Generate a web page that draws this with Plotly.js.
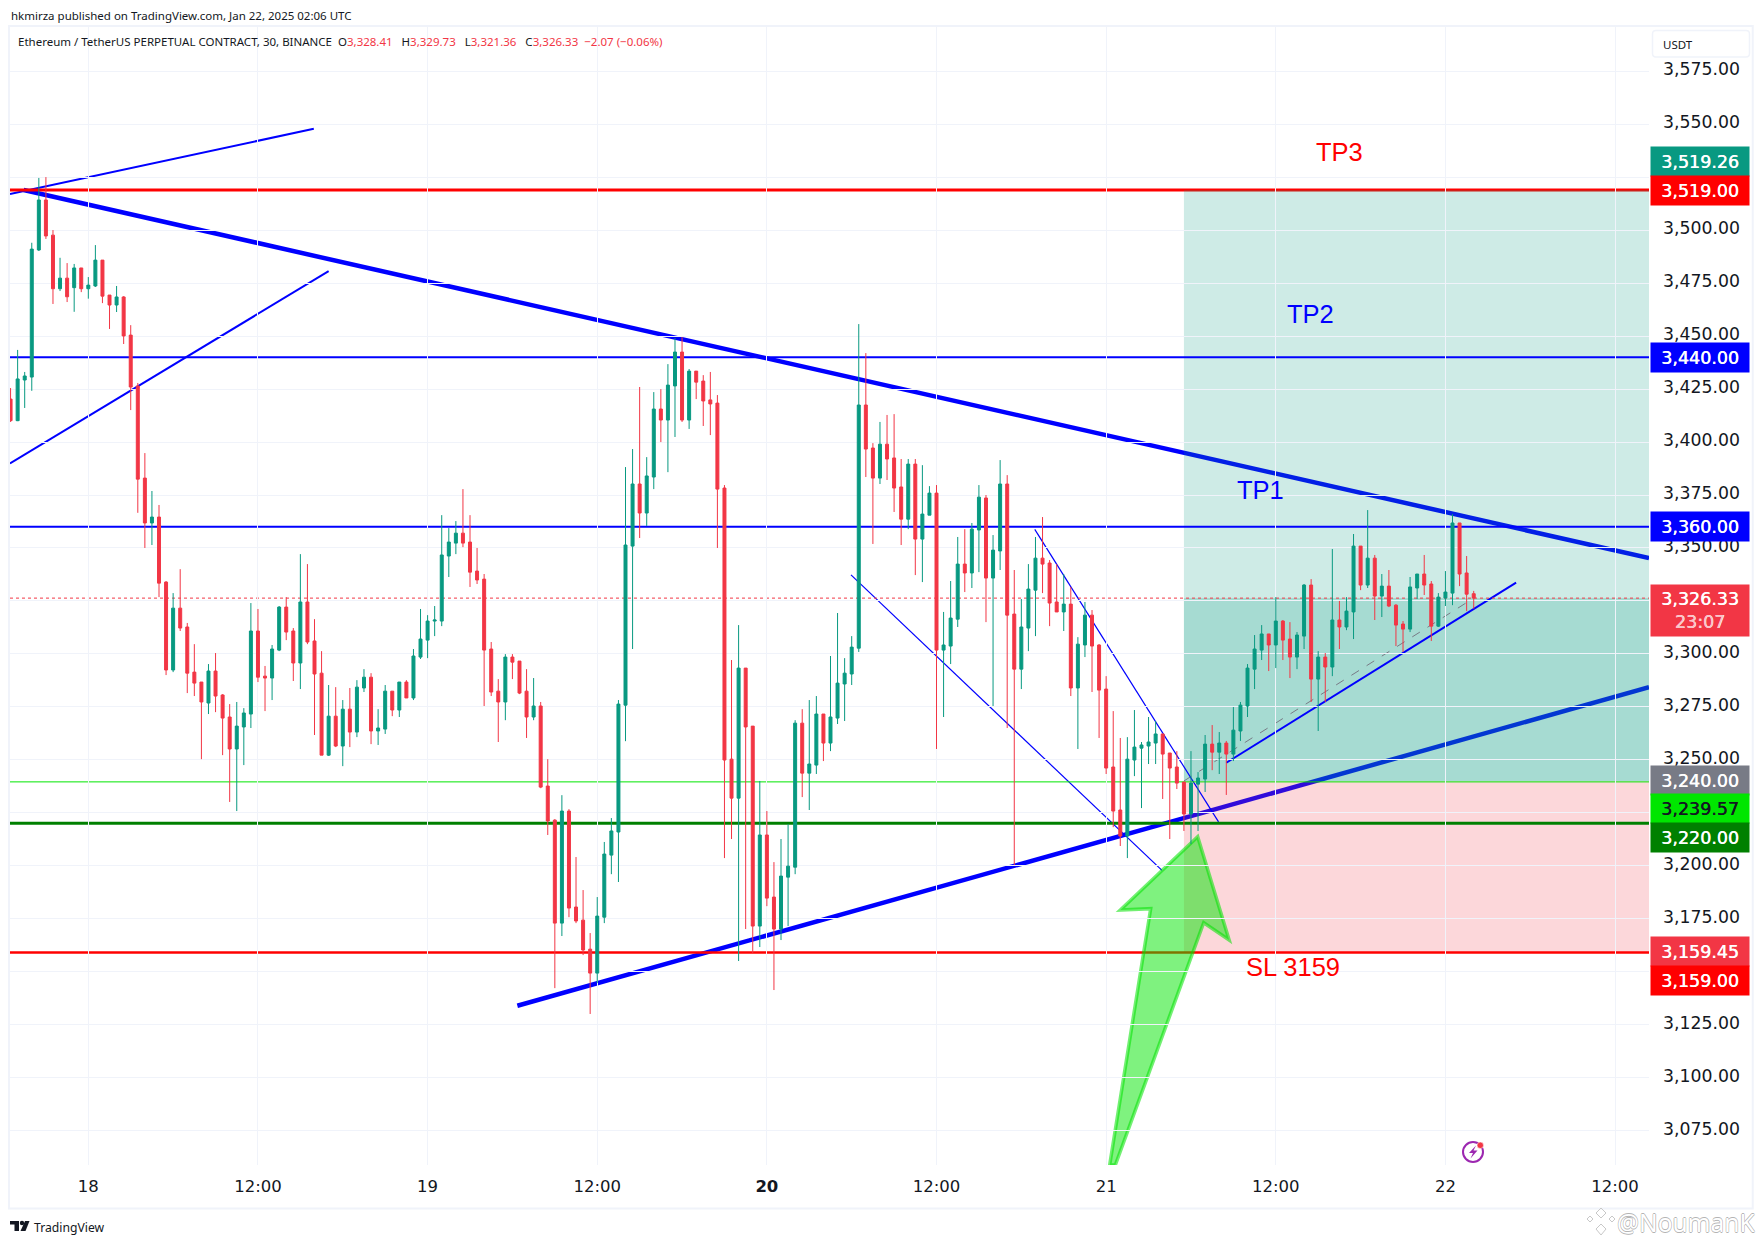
<!DOCTYPE html>
<html>
<head>
<meta charset="utf-8">
<script src="https://cdn.plot.ly/plotly-3.0.1.min.js"></script>
<style>html,body{margin:0;padding:0;background:#fff}#chart{width:1763px;height:1244px}</style>
</head>
<body>
<div id="chart"></div>
<script>
// ---- Candles (30-minute bars, first bar is 11 bars before Jan 18 00:00 UTC) ----
const firstBar = -11;
const open = [3420.3,3410.1,3429.3,3430.7,3490.7,3514.3,3497.7,3472.4,3477.4,3472.9,3482.2,
3472.4,3473.7,3485.9,3469.4,3464.7,3468.5,3450.5,3426.5,3383,3361.8,3364.6,
3333.9,3292.4,3321.6,3312.7,3291.4,3286.7,3276.8,3291.9,3280.6,3270.2,3255.1,
3265.5,3271.6,3310.8,3289.5,3288.6,3301.8,3322.1,3310.8,3295.7,3324.5,3306.1,
3290.9,3252.2,3270.6,3256.5,3273.9,3263.1,3283.9,3289,3263.6,3264.5,3282.4,
3273.5,3286.7,3279.2,3298.5,3306.5,3315.5,3315.5,3346.2,3352.3,3357,3352.8,
3339.1,3335.3,3302.3,3282.4,3277.3,3298.5,3296.6,3282.4,3270.2,3275.4,3237.6,
3221.5,3172.9,3225.8,3180.5,3174.3,3160.6,3149.3,3175.7,3205,3215.9,3275.8,
3350.9,3380.2,3366.5,3383.5,3415.6,3410.4,3426.5,3442.5,3410.4,3433.5,3428.8,
3419.9,3418.4,3378.3,3250.3,3231.9,3293.3,3265.9,3171.5,3214.5,3185.2,3170.1,
3194.6,3199.3,3267.3,3243.7,3247.5,3271.6,3257.9,3269.7,3285.8,3290.5,3302.7,
3417.5,3397.2,3383,3399,3392.5,3378.8,3363.6,3389.6,3354.2,3365.5,3375.9,
3301.8,3303.7,3316.4,3342.4,3338.2,3358.5,3373.6,3335.8,3348.6,3380.2,3318.8,
3292.8,3312.2,3330.1,3345.2,3342.9,3324.5,3319.8,3323.5,3283.9,3304.2,3318.3,
3304.2,3283.4,3246.6,3226.3,3214,3249.9,3255.5,3256.5,3257.9,3262.2,3253.2,
3246.6,3239.5,3224.4,3238.5,3240.9,3257.4,3253.6,3257.9,3252.7,3263.6,3275.4,
3292.8,3301.8,3309.4,3304.2,3315.5,3307,3298.5,3308.4,3332.5,3288.1,3298.5,
3293.8,3316,3312.7,3319.8,3350.9,3332.5,3345.2,3327.3,3332,3323,3314.1,
3311.7,3331.1,3337.7,3333,3313.1,3326.4,3328.7,3361.8,3338.2,3328.41];
const high = [3425.5,3443.5,3433.1,3494.1,3524.7,3525.1,3500.1,3487,3484.5,3484.1,3482.2,
3477.9,3493,3485.9,3469.4,3473.7,3468.9,3455.2,3427.9,3394.8,3376.9,3370.3,
3334.4,3328.7,3340,3314.6,3304.6,3286.7,3295.2,3300.4,3281,3276.3,3277.3,
3274.4,3324,3321.2,3294.3,3304.2,3322.6,3326.8,3312.2,3347.1,3342.4,3316.4,
3301.3,3285.3,3284.3,3278.2,3283.9,3287.6,3292.8,3290.9,3273.9,3285.3,3282.4,
3286.7,3287.6,3302.3,3321.2,3318.3,3322.6,3365.5,3359.4,3362.7,3377.8,3365.5,
3350,3337.7,3305.6,3288.1,3299.9,3299.9,3296.6,3292.8,3288.6,3277.3,3250.3,
3222,3233.3,3226.7,3204.1,3188.5,3168.2,3185.2,3211.2,3222.5,3278.2,3388.2,
3396.7,3426,3392.9,3423.6,3425,3436.8,3449.1,3449.6,3434.5,3433.5,3431.6,
3433.1,3422.2,3379.7,3297.1,3313.6,3293.3,3265.9,3240,3225.8,3201.7,3212.6,
3219.6,3268.7,3273.9,3278.2,3280.1,3271.6,3299,3319.3,3298,3308.4,3455.7,
3442,3399.5,3409.5,3412.8,3413.2,3392,3392,3392,3389.1,3379.2,3379.7,
3319.8,3334.4,3355.2,3358.9,3361.8,3379.7,3375,3356.1,3391.5,3384.4,3339.6,
3325.9,3342.4,3355.2,3364.6,3344.3,3342.4,3337.7,3331.6,3307.9,3324.5,3320.7,
3304.6,3289.5,3273,3260.3,3260.7,3273.5,3258.4,3270.2,3268.3,3262.2,3253.2,
3254.1,3239.5,3254.1,3244.2,3261.7,3266.4,3263.1,3258.9,3274.9,3277.3,3295.2,
3308.9,3313.6,3309.4,3326.8,3316,3315,3310.3,3333,3335.3,3301.3,3300.4,
3349.5,3325,3326.8,3356.6,3350.9,3367.9,3346.7,3337.7,3339.6,3323.5,3315.5,
3336.3,3337.7,3346.7,3334.4,3328.7,3339.1,3366,3361.8,3346.2,3329.73];
const low = [3409.5,3409.9,3416.1,3424.2,3490.2,3495.9,3465.2,3471.3,3466.1,3461.5,3470.8,
3467.7,3473.2,3465.6,3453.4,3461.4,3446.3,3415.1,3366.6,3350,3351.4,3326.8,
3290,3291.4,3310.8,3281.5,3280.1,3250.3,3271.6,3272.5,3252.2,3230.1,3225.8,
3247.5,3265,3286.7,3273,3278.2,3301.3,3306.5,3287.2,3283.4,3304.6,3261.7,
3252.2,3251.8,3256,3247,3256,3260.7,3282,3257.4,3257,3262.2,3270.6,
3270.2,3279.2,3278.2,3297.6,3298,3308.4,3313.1,3336.3,3347.1,3350.4,3331.6,
3333,3275.4,3280.1,3258.4,3268.7,3288.1,3281,3260.3,3268.7,3236.6,3214.5,
3142.2,3166.8,3175.7,3172.9,3157.8,3130,3144.6,3172.9,3196,3192.3,3258.8,
3302.3,3354.7,3360.4,3377.8,3400,3385.8,3402.4,3409.5,3406.2,3420.3,3407.6,
3403.3,3350,3203.6,3212.6,3155,3170.1,3158.7,3161.6,3180.9,3141.3,3164.9,
3171.5,3196,3232.4,3226.3,3243.3,3249.4,3254.1,3266.9,3268.3,3285.3,3300.9,
3383.5,3351.9,3380.2,3382.1,3367,3351.4,3358.9,3337.2,3333.9,3365.5,3255.1,
3270.2,3295.2,3312.7,3329.2,3331.1,3338.6,3315,3275.4,3339.6,3265,3200.3,
3283.4,3301.3,3308.4,3328.7,3313.1,3319.8,3310.8,3280.1,3255.1,3298.5,3282,
3260.3,3243.3,3218.2,3209.3,3203.6,3242.3,3227.2,3248,3248,3231.5,3212.6,
3236.2,3216.4,3210.2,3216.4,3234.8,3245.1,3243.3,3233.4,3249.4,3258.9,3270.2,
3283.4,3297.1,3291.9,3293.3,3297.1,3288.6,3292.8,3302.3,3277.3,3263.6,3277.3,
3289.5,3302.3,3311.2,3307,3330.1,3331.1,3316,3317.4,3322.1,3303.7,3300.9,
3310.3,3325.9,3327.8,3306.1,3312.7,3322.6,3323,3332,3320.2,3321.36];
const close = [3410.1,3429.8,3431.2,3491.1,3514.3,3497.3,3472.4,3477.4,3468.6,3482.2,3472.4,
3474.1,3485.9,3468.9,3464.7,3468.5,3450.1,3426,3382.5,3361.8,3364.6,3333.4,
3292.4,3321.6,3312.2,3290.9,3286.2,3277.3,3291.9,3280.1,3269.7,3255.1,3265.9,
3272.1,3310.8,3289,3288.6,3302.3,3322.1,3310.3,3295.7,3324.5,3305.6,3290.5,
3252.2,3270.6,3256.5,3273.9,3263.1,3284.3,3289,3263.6,3265,3282.4,3273.5,
3286.7,3279.2,3299,3307,3315.5,3316,3346.7,3352.8,3357,3352.3,3338.6,
3334.9,3301.8,3282,3277.3,3298.5,3296.1,3281.5,3270.2,3275.4,3237.1,3221.1,
3172.9,3225.8,3180,3173.9,3160.2,3149.3,3176.2,3205.5,3216.4,3276.3,3351.4,
3380.2,3366.5,3384,3415.6,3410.4,3426.9,3442.5,3410.4,3433.5,3428.3,3419.4,
3418,3377.8,3249.9,3231.9,3293.3,3265.5,3171.5,3214.5,3184.7,3170.1,3195.1,
3199.8,3267.3,3243.7,3248,3271.6,3257.9,3270.2,3286.2,3290.9,3303.2,3417.5,
3396.7,3383,3399,3392,3378.3,3363.6,3389.6,3354.2,3366,3375.9,3301.8,
3304.2,3316.9,3342.4,3338.2,3358.9,3374,3335.8,3349,3380.2,3318.3,3292.8,
3312.7,3330.6,3345.2,3342.4,3324,3319.8,3323.5,3283.9,3304.6,3318.3,3303.7,
3282.9,3246.1,3225.8,3214,3250.3,3256,3257,3258.4,3262.2,3252.7,3246.1,
3239,3224.4,3239,3241.4,3257.4,3253.6,3257.9,3252.7,3264,3275.8,3293.3,
3302.3,3309.4,3304.2,3315.5,3306.5,3298.5,3308.9,3332.5,3288.1,3298.5,3293.8,
3316,3312.7,3320.2,3350.9,3332.5,3345.2,3327.3,3332,3322.6,3313.6,3311.7,
3331.6,3337.7,3332.5,3313.1,3326.8,3329.2,3361.8,3337.7,3328.2,3326.33];

// ---- Axis ----
const priceTicks = [3575,3550,3525,3500,3475,3450,3425,3400,3375,3350,3325,3300,3275,3250,3225,3200,3175,3150,3125,3100,3075];
const hiddenPriceTicks = [3525,3325,3225,3150];
const timeTickBars = [0,24,48,72,96,120,144,168,192,216];
const timeTickLabels = ['18','12:00','19','12:00','<b>20</b>','12:00','21','12:00','22','12:00'];
const priceRange = [3058.7,3595.96];
const barRange = [-11.08,220.8];

// ---- Levels ----
const levelTP3 = 3519, levelTP2 = 3440, levelTP1 = 3360, levelEntry = 3240, levelMark = 3239.57, levelSupport = 3220, levelSL = 3159, lastPrice = 3326.33;

// ---- Drawn lines: bar offsets and prices ----
const resistBars = [-9.14,220.8],  resistPrices = [3519,3345.2];
const supportBars = [60.7,220.8],  supportPrices = [3133.9,3284.3];
const fanABars = [-11.08,31.9],    fanAPrices = [3517.1,3547.9];
const fanBBars = [-11.08,34],      fanBPrices = [3389.9,3480.7];
const wedgeLowBars = [107.9,151.9], wedgeLowPrices = [3337.3,3197.8];
const wedgeUpBars = [133.9,159.9], wedgeUpPrices = [3358.8,3220.7];
const channelBars = [161,202],     channelPrices = [3248.6,3333.6];
const posBars = [155,220.8], posNowBar = 196;
const arrowBars = [156.95,161.4,157.8,145.3,144.5,150.3,146];
const arrowPrices = [3213.7,3164.9,3173.1,3058.7,3058.7,3179.7,3179.1];

// ---- Text ----
const headerText = 'hkmirza published on TradingView.com, Jan 22, 2025 02:06 UTC';
const symbolText = 'Ethereum / TetherUS PERPETUAL CONTRACT, 30, BINANCE';
const ohlcLabels = [['O','3,328.41'],['H','3,329.73'],['L','3,321.36'],['C','3,326.33']];
const changeText = '−2.07 (−0.06%)';

// ---- Helpers ----
const UP = '#089981', DOWN = '#F23645', BLUE = '#0000FF', RED = '#FF0000';
const L = 10, R = 1649, T = 27, B = 1165;
const px = X => (X - L) / (R - L);
const py = Y => (B - Y) / (B - T);
const T0 = Date.UTC(2025, 0, 18);
const barTime = b => new Date(T0 + b * 1800000).toISOString().slice(0, 19).replace('T', ' ');
const times = open.map((_, i) => barTime(firstBar + i));
const SANS = '"Noto Sans", sans-serif', AXIS = '"DejaVu Sans", sans-serif';

const seg = (bars, prices, color, width, dash) => ({type:'line', xref:'x', yref:'y', layer:'below',
  x0:barTime(bars[0]), x1:barTime(bars[1]), y0:prices[0], y1:prices[1],
  line:{color, width, dash:dash||'solid'}});
const level = (v, color, width, dash) => seg(barRange, [v, v], color, width, dash);
const zone = (b, p0, p1, fill) => ({type:'rect', xref:'x', yref:'y', layer:'below',
  x0:barTime(b[0]), x1:barTime(b[1]), y0:p0, y1:p1, fillcolor:fill, line:{width:0}});
const pixRect = (x0, y0, x1, y1, extra) => Object.assign({type:'rect', xref:'paper', yref:'paper',
  x0:px(x0), x1:px(x1), y0:py(y0), y1:py(y1), line:{width:0}}, extra);
const pixCircle = (cx, cy, r, extra) => Object.assign(pixRect(cx-r, cy-r, cx+r, cy+r, extra), {type:'circle'});
const pixPoly = (pts, extra) => Object.assign({type:'path', xref:'paper', yref:'paper',
  path:'M ' + pts.map(p => px(p[0]) + ',' + py(p[1])).join(' L ') + ' Z', line:{width:0}}, extra);

const arrowPath = 'M ' + arrowBars.map((b, i) => barTime(b).replace(' ', '_') + ',' + arrowPrices[i]).join(' L ') + ' Z';

const shapes = [
  pixRect(9, 26, 1752.7, 1208.5, {layer:'below', line:{color:'#F0F3FA', width:2}}),
  seg(fanABars, fanAPrices, BLUE, 2),
  seg(fanBBars, fanBPrices, BLUE, 2),
  seg(resistBars, resistPrices, BLUE, 4.5),
  seg(supportBars, supportPrices, BLUE, 4.5),
  level(levelTP3, RED, 3),
  zone(posBars, levelEntry, levelTP3, 'rgba(8,153,129,0.2)'),
  zone(posBars, levelEntry, lastPrice, 'rgba(8,153,129,0.2)'),
  zone(posBars, levelSL, levelEntry, 'rgba(242,54,69,0.2)'),
  seg([posBars[0], posNowBar], [levelEntry, lastPrice], '#787B86', 1, 'dash'),
  seg(wedgeLowBars, wedgeLowPrices, BLUE, 1.2),
  seg(wedgeUpBars, wedgeUpPrices, BLUE, 1.2),
  seg(channelBars, channelPrices, BLUE, 2),
  level(levelTP2, BLUE, 2),
  level(levelTP1, BLUE, 2),
  level(lastPrice, DOWN, 1, 'dot'),
  level(levelMark, '#00E600', 1),
  level(levelSupport, '#008000', 3),
  level(levelSL, RED, 2.5),
  {type:'path', xref:'x', yref:'y', layer:'below', path:arrowPath,
   fillcolor:'rgba(0,230,0,0.5)', line:{color:'rgba(0,225,0,0.55)', width:3.5}},
  // USDT button
  {type:'path', xref:'paper', yref:'paper', layer:'below',
   path:'M '+px(1656)+','+py(30.5)+' L '+px(1746)+','+py(30.5)+' Q '+px(1749.5)+','+py(30.5)+' '+px(1749.5)+','+py(34)+
        ' L '+px(1749.5)+','+py(53.5)+' Q '+px(1749.5)+','+py(57)+' '+px(1746)+','+py(57)+
        ' L '+px(1656)+','+py(57)+' Q '+px(1652.5)+','+py(57)+' '+px(1652.5)+','+py(53.5)+
        ' L '+px(1652.5)+','+py(34)+' Q '+px(1652.5)+','+py(30.5)+' '+px(1656)+','+py(30.5)+' Z',
   fillcolor:'#ffffff', line:{color:'#F0F3FA', width:1.5}},
  // lightning badge
  pixCircle(1473, 1152, 10, {layer:'above', line:{color:'#9C27B0', width:2}}),
  pixPoly([[1476,1145.5],[1469,1153],[1473,1153],[1470.5,1158.5],[1477.5,1150.5],[1473.5,1150.5]], {layer:'above', fillcolor:'#9C27B0'}),
  pixCircle(1480.3, 1145.3, 3.2, {layer:'above', fillcolor:'#F23645', line:{color:'#ffffff', width:0.5}}),
  // TradingView mark
  pixPoly([[10,1221],[19,1221],[19,1231],[14.5,1231],[14.5,1224.5],[10,1224.5]], {layer:'above', fillcolor:'#131722'}),
  pixCircle(22, 1223, 2.2, {layer:'above', fillcolor:'#131722'}),
  pixPoly([[25,1221],[29.5,1221],[25.5,1231],[20.5,1231]], {layer:'above', fillcolor:'#131722'}),
  // watermark mark
  pixPoly([[1601,1208],[1606,1213],[1601,1218],[1596,1213]], {layer:'above', fillcolor:'rgba(0,0,0,0)', line:{color:'#c8c8c8', width:1}}),
  pixPoly([[1590,1216],[1593,1219],[1590,1222],[1587,1219]], {layer:'above', fillcolor:'rgba(0,0,0,0)', line:{color:'#c8c8c8', width:1}}),
  pixPoly([[1612,1216],[1615,1219],[1612,1222],[1609,1219]], {layer:'above', fillcolor:'rgba(0,0,0,0)', line:{color:'#c8c8c8', width:1}}),
  pixPoly([[1601,1224],[1606,1229],[1601,1235],[1596,1229]], {layer:'above', fillcolor:'rgba(0,0,0,0)', line:{color:'#c8c8c8', width:1}})
];

const pixText = (text, X, Y, size, color, family, anchor, extra) => Object.assign({text, xref:'paper', yref:'paper',
  x:px(X), y:py(Y), xanchor:anchor||'left', yanchor:'middle', showarrow:false, borderpad:0,
  font:{size, color, family}}, extra||{});
const drawnText = (text, bar, price, color) => ({text, xref:'x', yref:'y', x:barTime(bar), y:price,
  xanchor:'center', yanchor:'middle', showarrow:false, font:{size:25.5, color, family:'"Liberation Sans", sans-serif'}});
const badge = (text, price, shift, bg, color, h) => ({text, xref:'paper', yref:'y', x:px(1650), y:price,
  xanchor:'left', yanchor:'middle', yshift:shift, width:98, height:h||29, align:'center', valign:'middle',
  showarrow:false, bgcolor:bg, borderpad:0,
  font:{size:17.5, color:color||'#ffffff', family:AXIS, shadow:'0.4px 0 '+(color||'#ffffff')}});

const legendRed = t => '<span style="color:'+DOWN+'">'+t+'</span>';
const legendText = symbolText + '&nbsp;&nbsp;' +
  ohlcLabels.map(p => p[0] + legendRed(p[1])).join('&nbsp;&nbsp;&nbsp;') + '&nbsp;&nbsp;' + legendRed(changeText);

const annotations = [
  pixText(headerText, 10, 15, 11.5, '#131722', SANS),
  pixText(legendText, 17, 42, 11.5, '#131722', SANS),
  pixText('USDT', 1662, 44.5, 11.5, '#131722', SANS),
  pixText('TradingView', 33, 1227.5, 12.2, '#131722', SANS),
  pixText('@NoumanK', 1756, 1222.5, 24.5, '#ffffff', SANS, 'right', {font:{size:24.5, color:'#ffffff', family:SANS,
     shadow:'-0.6px 0 #b4b4b4, 0.6px 0 #b4b4b4, 0 -0.6px #b4b4b4, 0 0.6px #b4b4b4'}}),
  drawnText('TP3', 177, 3536.9, RED),
  drawnText('TP2', 172.9, 3460.4, BLUE),
  drawnText('TP1', 165.8, 3377.4, BLUE),
  drawnText('SL 3159', 170.5, 3152.1, RED),
  badge('3,519.26', 3519.26, 28, UP),
  badge('3,519.00', levelTP3, 0, RED),
  badge('3,440.00', levelTP2, 0, BLUE),
  badge('3,360.00', levelTP1, 0, BLUE),
  badge('3,326.33<br><span style="color:#FBC2C7">23:07</span>', lastPrice, -12, DOWN, '#ffffff', 51),
  badge('3,240.00', levelEntry, 0, '#787B86'),
  badge('3,239.57', levelMark, -27, '#00E600', '#131722'),
  badge('3,220.00', levelSupport, -14, '#008000'),
  badge('3,159.45', 3159.45, 0, DOWN),
  badge('3,159.00', levelSL, -28, RED)
];

const candles = {type:'candlestick', x:times, open, high, low, close, hoverinfo:'skip', whiskerwidth:0,
  increasing:{line:{color:UP, width:1}, fillcolor:UP},
  decreasing:{line:{color:DOWN, width:1}, fillcolor:DOWN}};

const layout = {
  width:1763, height:1244, margin:{l:L, r:1763-R, t:T, b:1244-B, pad:0},
  paper_bgcolor:'#ffffff', plot_bgcolor:'#ffffff', showlegend:false, boxgap:0.4,
  xaxis:{type:'date', range:barRange.map(barTime), rangeslider:{visible:false},
    tickmode:'array', tickvals:timeTickBars.map(barTime), ticktext:timeTickLabels,
    showgrid:true, gridcolor:'#F0F3FA', gridwidth:1, zeroline:false, showline:false, ticks:'',
    ticklabelstandoff:9, tickfont:{size:16.5, color:'#131722', family:AXIS}},
  yaxis:{side:'right', range:priceRange, tickmode:'array', tickvals:priceTicks,
    ticktext:priceTicks.map(v => hiddenPriceTicks.includes(v) ? '' : v.toLocaleString('en-US', {minimumFractionDigits:2})),
    showgrid:true, gridcolor:'#F0F3FA', gridwidth:1, zeroline:false, showline:false, ticks:'',
    ticklabelstandoff:13, ticklabelshift:-2, tickfont:{size:17.3, color:'#131722', family:AXIS}},
  shapes, annotations
};

Plotly.newPlot('chart', [candles], layout, {staticPlot:true, displayModeBar:false, responsive:false});
</script>
</body>
</html>
